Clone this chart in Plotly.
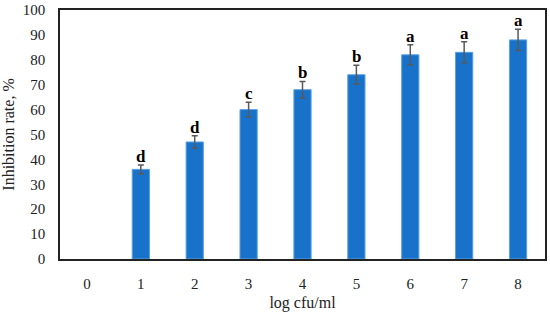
import plotly.graph_objects as go

categories = ["0", "1", "2", "3", "4", "5", "6", "7", "8"]
inhibition = [0, 36, 47, 60, 68, 74, 82, 83, 88]
errors = [0, 1.8, 2.5, 3.0, 3.3, 3.8, 4.0, 4.2, 4.3]
letters = ["", "d", "d", "c", "b", "b", "a", "a", "a"]
y_ticks = [0, 10, 20, 30, 40, 50, 60, 70, 80, 90, 100]

font_family = "Liberation Serif"

shown = [v > 0 for v in inhibition]
fig = go.Figure()
fig.add_trace(go.Bar(
    x=[c for c, s in zip(categories, shown) if s],
    y=[v for v, s in zip(inhibition, shown) if s],
    width=0.32,
    marker=dict(color="#1872c9", line=dict(color="#5aa2e6", width=1)),
    error_y=dict(type="data", array=[e for e, s in zip(errors, shown) if s],
                 visible=True, color="#595959", thickness=1.5, width=3),
))

for c, v, e, t in zip(categories, inhibition, errors, letters):
    if t:
        fig.add_annotation(x=c, y=v + e, text="<b>" + t + "</b>",
                           showarrow=False, yanchor="bottom", yshift=-3,
                           font=dict(family=font_family, size=17, color="black"))

fig.update_layout(
    width=550, height=314,
    margin=dict(l=60, r=5, t=10, b=55, autoexpand=False),
    paper_bgcolor="white", plot_bgcolor="white",
    showlegend=False,
    font=dict(family=font_family, size=15, color="#222222"),
    bargap=0.68,
)
fig.update_xaxes(
    type="category", categoryorder="array", categoryarray=categories,
    range=[-0.5, 8.5], automargin=False,
    showline=True, linecolor="#222222", linewidth=1.5, mirror=True,
    showgrid=False, ticks="", ticklabelstandoff=10,
    tickvals=categories, ticktext=categories,
    title=dict(text="log cfu/ml", font=dict(size=16), standoff=6),
)
fig.update_yaxes(
    range=[0, 100], tickvals=y_ticks, automargin=False,
    showline=True, linecolor="#222222", linewidth=1.5, mirror=True,
    showgrid=False, ticks="", zeroline=False, ticklabelstandoff=10,
    title=dict(text="Inhibition rate, %", font=dict(size=16), standoff=6),
)

fig.write_html("out.html", config={"displayModeBar": False},
               post_script="document.body.style.margin='0';document.body.style.overflow='hidden';")
